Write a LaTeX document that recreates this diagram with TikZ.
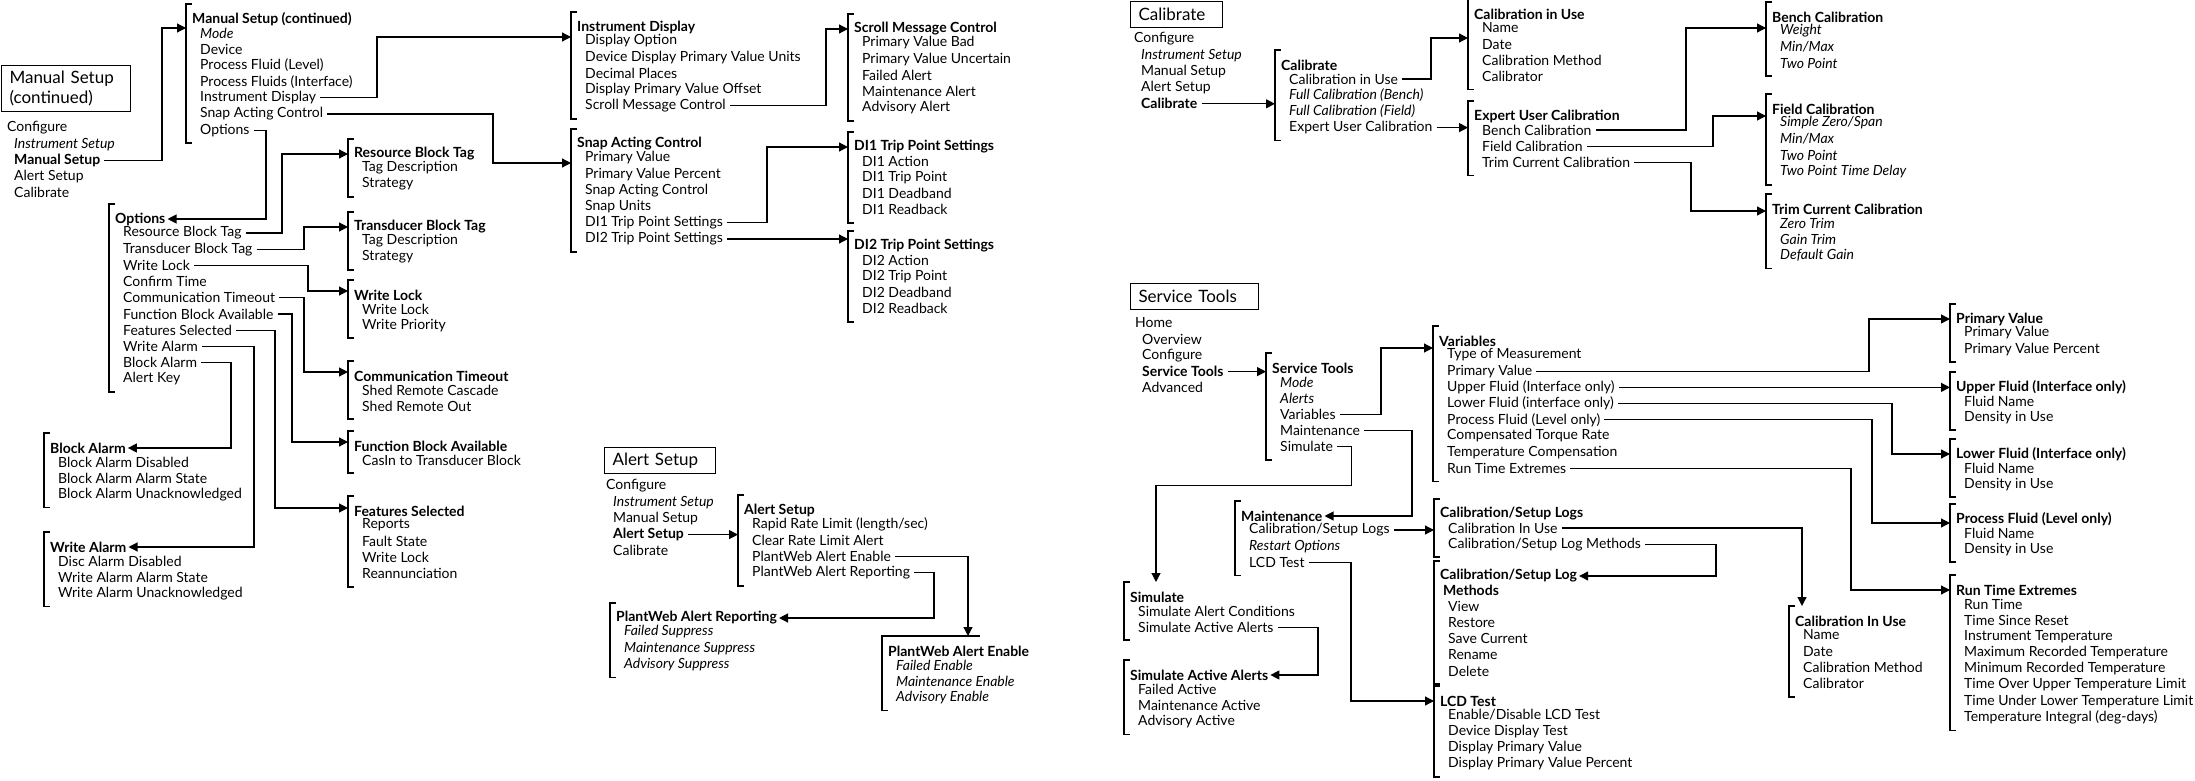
\documentclass[tikz,border=0pt]{standalone}
\usepackage{fontspec}
\setmainfont{Lato}
\usepackage{tikz}
\usetikzlibrary{arrows.meta}

\tikzset{
  ttl/.style={anchor=west, inner sep=0pt, font=\fontsize{14}{16}\selectfont\bfseries},
  itm/.style={anchor=west, inner sep=0pt, font=\fontsize{14}{16}\selectfont},
  brk/.style={line width=1.8pt},
  arr/.style={line width=1.2pt, -{Triangle[length=9pt,width=9pt]}, shorten <=4pt},
  arl/.style={arr, shorten >=2pt},
  topbox/.style={draw, line width=1pt, anchor=north west, inner xsep=8pt, inner ysep=3pt,
    align=left, font=\fontsize{17}{20}\selectfont},
}

% menu: name, bracket x, title y, title, items
\newcommand{\menu}[5]{%
  \node[ttl] (#1-0) at (#2+6,#3) {#4};
  \coordinate (#1-in) at (#2,#3);
  \coordinate (#1-top) at (#2,#3-15);
  \foreach \t [count=\i] in {#5}
    {\node[itm] (#1-\i) at (#2+14,{#3+14+(\i-1)*16.2}) {\t}; \xdef\nlast{\i}}
  \draw[brk] (#2+6,#3-15) -- (#2,#3-15) -- (#2,{#3+27+(\nlast-1)*16.2}) -- ++(6,0);
}
% navigation list: name, x, y, first line, other lines
\newcommand{\navlist}[5]{%
  \node[itm] (#1-0) at (#2,#3) {#4};
  \foreach \t [count=\i] in {#5}
    \node[itm] (#1-\i) at (#2+7,{#3+\i*16.2}) {\t};
}

\begin{document}
\begin{tikzpicture}[x=1pt,y=-1pt]
  \useasboundingbox (0,0) rectangle (2195,781);

  % Manual Setup (continued)
  \node[topbox, text width=113pt, minimum height=46pt] (msbox) at (1,65) {Manual Setup\\(continued)};
  \navlist{msnav}{7}{128}{Configure}{{\itshape Instrument Setup},{\bfseries Manual Setup},Alert Setup,Calibrate}
  \menu{mc}{186}{19}{Manual Setup (continued)}{{\itshape Mode},Device,Process Fluid (Level),Process Fluids (Interface),Instrument Display,Snap Acting Control,Options}
  \menu{opt}{109}{219}{Options}{Resource Block Tag,Transducer Block Tag,Write Lock,Confirm Time,Communication Timeout,Function Block Available,Features Selected,Write Alarm,Block Alarm,Alert Key}
  \menu{rbt}{348}{154}{Resource Block Tag}{Tag Description,Strategy}
  \menu{tbt}{348}{227}{Transducer Block Tag}{Tag Description,Strategy}
  \menu{wl}{348}{295}{Write Lock}{Write Lock,Write Priority}
  \menu{ct}{348}{376}{Communication Timeout}{Shed Remote Cascade,Shed Remote Out}
  \menu{fba}{348}{446}{Function Block Available}{CasIn to Transducer Block}
  \menu{fs}{348}{511}{Features Selected}{Reports,Fault State,Write Lock,Reannunciation}
  \menu{ba}{44}{448}{Block Alarm}{Block Alarm Disabled,Block Alarm Alarm State,Block Alarm Unacknowledged}
  \menu{wa}{44}{547}{Write Alarm}{Disc Alarm Disabled,Write Alarm Alarm State,Write Alarm Unacknowledged}
  \menu{id}{571}{27}{Instrument Display}{Display Option,Device Display Primary Value Units,Decimal Places,Display Primary Value Offset,Scroll Message Control}
  \menu{sac}{571}{144}{Snap Acting Control}{Primary Value,Primary Value Percent,Snap Acting Control,Snap Units,DI1 Trip Point Settings,DI2 Trip Point Settings}
  \menu{smc}{848}{29}{Scroll Message Control}{Primary Value Bad,Primary Value Uncertain,Failed Alert,Maintenance Alert,Advisory Alert}
  \menu{dia}{848}{147}{DI1 Trip Point Settings}{DI1 Action,DI1 Trip Point,DI1 Deadband,DI1 Readback}
  \menu{dib}{848}{246}{DI2 Trip Point Settings}{DI2 Action,DI2 Trip Point,DI2 Deadband,DI2 Readback}

  \draw[arr] (msnav-2.east) -- (msnav-2.east -| 162,0) |- ([yshift=-9pt]mc-in);
  \draw[arr] (mc-5.east) -- (mc-5.east -| 377,0) |- ([yshift=-10pt]id-in);
  \draw[arr] (mc-6.east) -- (mc-6.east -| 493,0) |- ([yshift=-19pt]sac-in);
  \draw[arl] (mc-7.east) -- (mc-7.east -| 266,0) |- (opt-0.east);
  \draw[arr] (opt-1.east) -- (opt-1.east -| 282,0) |- (rbt-in);
  \draw[arr] (opt-2.east) -- (opt-2.east -| 304,0) |- (tbt-in);
  \draw[arr] (opt-3.east) -- (opt-3.east -| 308,0) |- ([yshift=4pt]wl-in);
  \draw[arr] (opt-5.east) -- (opt-5.east -| 304,0) |- ([yshift=4pt]ct-in);
  \draw[arr] (opt-6.east) -- (opt-6.east -| 292,0) |- ([yshift=4pt]fba-in);
  \draw[arr] (opt-7.east) -- (opt-7.east -| 275,0) |- ([yshift=3pt]fs-in);
  \draw[arl] (opt-9.east) -- (opt-9.east -| 231,0) |- (ba-0.east);
  \draw[arl] (opt-8.east) -- (opt-8.east -| 254,0) |- (wa-0.east);
  \draw[arr] (id-5.east) -- (id-5.east -| 826,0) |- (smc-in);
  \draw[arr] (sac-5.east) -- (sac-5.east -| 767,0) |- (dia-in);
  \draw[arr] (sac-6.east) -- (sac-6.east -| dib-in);

  % Alert Setup
  \node[topbox, text width=95pt, minimum height=26pt] (asbox) at (604,447) {Alert Setup};
  \navlist{asnav}{606}{486}{Configure}{{\itshape Instrument Setup},Manual Setup,{\bfseries Alert Setup},Calibrate}
  \menu{as}{738}{510}{Alert Setup}{Rapid Rate Limit (length/sec),Clear Rate Limit Alert,PlantWeb Alert Enable,PlantWeb Alert Reporting}
  \menu{pwar}{610}{618}{PlantWeb Alert Reporting}{{\itshape Failed Suppress},{\itshape Maintenance Suppress},{\itshape Advisory Suppress}}
  \menu{pwae}{882}{651}{PlantWeb Alert Enable}{{\itshape Failed Enable},{\itshape Maintenance Enable},{\itshape Advisory Enable}}
  \draw[brk] (pwae-top) -- ++(98,0);

  \draw[arr] (asnav-3.east) -- (asnav-3.east -| as-in);
  \draw[arl] (as-4.east) -- (as-4.east -| 934,0) |- (pwar-0.east);
  \draw[arr] (as-3.east) -| ([xshift=86pt]pwae-top);

  % Calibrate
  \node[topbox, text width=76pt, minimum height=26pt] (calbox) at (1130,1) {Calibrate};
  \navlist{calnav}{1134}{39}{Configure}{{\itshape Instrument Setup},Manual Setup,Alert Setup,{\bfseries Calibrate}}
  \menu{cal}{1275}{65}{Calibrate}{Calibration in Use,{\itshape Full Calibration (Bench)},{\itshape Full Calibration (Field)},Expert User Calibration}
  \menu{ciu}{1468}{14}{Calibration in Use}{Name,Date,Calibration Method,Calibrator}
  \menu{euc}{1468}{116}{Expert User Calibration}{Bench Calibration,Field Calibration,Trim Current Calibration}
  \menu{bc}{1766}{17}{Bench Calibration}{{\itshape Weight},{\itshape Min/Max},{\itshape Two Point}}
  \menu{fc}{1766}{109}{Field Calibration}{{\itshape Simple Zero/Span},{\itshape Min/Max},{\itshape Two Point},{\itshape Two Point Time Delay}}
  \menu{tcc}{1766}{209}{Trim Current Calibration}{{\itshape Zero Trim},{\itshape Gain Trim},{\itshape Default Gain}}

  \draw[arr] (calnav-4.east) -- (calnav-4.east -| cal-in);
  \draw[arr] (cal-1.east) -- (cal-1.east -| 1431,0) |- ([yshift=-24pt]ciu-in);
  \draw[arr] (cal-4.east) -- (cal-4.east -| euc-in);
  \draw[arr] (euc-1.east) -- (euc-1.east -| 1686,0) |- ([yshift=-11pt]bc-in);
  \draw[arr] (euc-2.east) -- (euc-2.east -| 1713,0) |- ([yshift=-7pt]fc-in);
  \draw[arr] (euc-3.east) -- (euc-3.east -| 1691,0) |- ([yshift=-2pt]tcc-in);

  % Service Tools
  \node[topbox, text width=112pt, minimum height=26pt] (stbox) at (1130,283) {Service Tools};
  \navlist{stnav}{1135}{323}{Home}{Overview,Configure,{\bfseries Service Tools},Advanced}
  \menu{st}{1266}{368}{Service Tools}{{\itshape Mode},{\itshape Alerts},Variables,Maintenance,Simulate}
  \menu{var}{1433}{341}{Variables}{Type of Measurement,Primary Value,Upper Fluid (Interface only),Lower Fluid (interface only),Process Fluid (Level only),Compensated Torque Rate,Temperature Compensation,Run Time Extremes}
  \menu{mnt}{1235}{516}{Maintenance}{Calibration/Setup Logs,{\itshape Restart Options},LCD Test}
  \menu{sim}{1124}{597}{Simulate}{Simulate Alert Conditions,Simulate Active Alerts}
  \menu{saa}{1124}{675}{Simulate Active Alerts}{Failed Active,Maintenance Active,Advisory Active}
  \menu{csl}{1434}{514}{Calibration/Setup Logs}{Calibration In Use,Calibration/Setup Log Methods}
  \menu{cslm}{1434}{576}{Calibration/Setup Log}{{\hspace{-5pt}\bfseries Methods},View,Restore,Save Current,Rename,Delete}
  \menu{lcd}{1434}{701}{LCD Test}{Enable/Disable LCD Test,Device Display Test,Display Primary Value,Display Primary Value Percent}
  \menu{ciub}{1789}{621}{Calibration In Use}{Name,Date,Calibration Method,Calibrator}
  \menu{pv}{1950}{319}{Primary Value}{Primary Value,Primary Value Percent}
  \menu{uf}{1950}{387}{Upper Fluid (Interface only)}{Fluid Name,Density in Use}
  \menu{lf}{1950}{454}{Lower Fluid (Interface only)}{Fluid Name,Density in Use}
  \menu{pf}{1950}{519}{Process Fluid (Level only)}{Fluid Name,Density in Use}
  \menu{rte}{1950}{590}{Run Time Extremes}{Run Time,Time Since Reset,Instrument Temperature,Maximum Recorded Temperature,Minimum Recorded Temperature,Time Over Upper Temperature Limit,Time Under Lower Temperature Limit,Temperature Integral (deg-days)}

  \draw[arr] (stnav-3.east) -- (stnav-3.east -| st-in);
  \draw[arr] (st-3.east) -- (st-3.east -| 1381,0) |- ([yshift=-7pt]var-in);
  \draw[arl] (st-4.east) -- (st-4.east -| 1412,0) |- (mnt-0.east);
  \draw[arr] (st-5.east) -- ++(18,0) -- ++(0,39) -| ([xshift=32pt]sim-top);
  \draw[arl] (sim-2.east) -- (sim-2.east -| 1318,0) |- (saa-0.east);
  \draw[arr] (mnt-1.east) -- (mnt-1.east -| csl-in);
  \draw[arl] (csl-2.east) -- (csl-2.east -| 1716,0) |- (cslm-0.east);
  \draw[arr] (mnt-3.east) -- (mnt-3.east -| 1351,0) |- (lcd-in);
  \draw[arr] (csl-1.east) -| ([xshift=13pt]ciub-top);
  \draw[arr] (var-2.east) -- (var-2.east -| 1869,0) |- (pv-in);
  \draw[arr] (var-3.east) -- (var-3.east -| uf-in);
  \draw[arr] (var-4.east) -- (var-4.east -| 1892,0) |- (lf-in);
  \draw[arr] (var-5.east) -- (var-5.east -| 1872,0) |- ([yshift=-4pt]pf-in);
  \draw[arr] (var-8.east) -- (var-8.east -| 1851,0) |- (rte-in);
\end{tikzpicture}
\end{document}
